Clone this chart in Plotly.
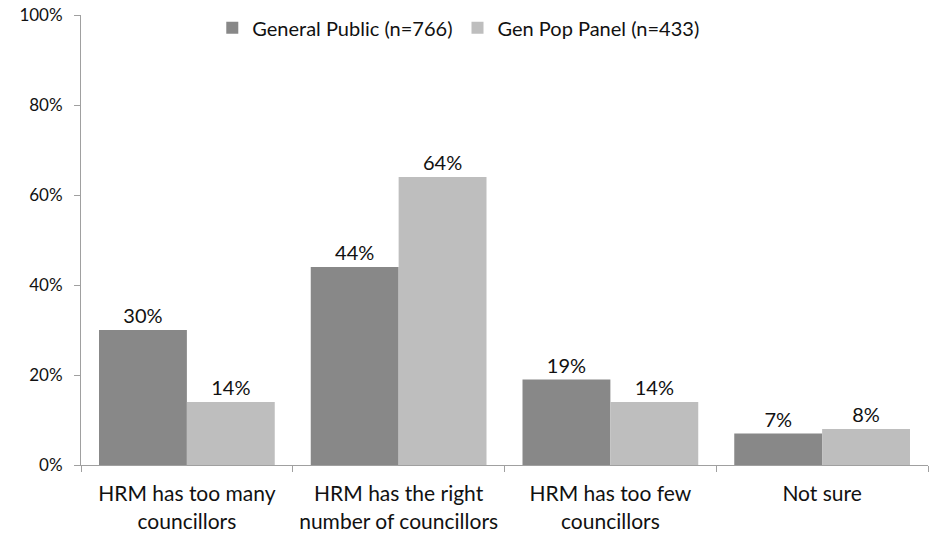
import plotly.graph_objects as go

categories = ["HRM has too many<br>councillors", "HRM has the right<br>number of councillors",
              "HRM has too few<br>councillors", "Not sure"]
general_public = [30, 44, 19, 7]
gen_pop_panel = [14, 64, 14, 8]
series_names = ["General Public (n=766)", "Gen Pop Panel (n=433)"]
y_ticks = [0, 20, 40, 60, 80, 100]
y_tick_labels = [f"{v}%" for v in y_ticks]

font_family = "Lato, Open Sans, sans-serif"

fig = go.Figure()
fig.add_trace(go.Bar(x=categories, y=general_public, name=series_names[0],
                     marker=dict(color="#888888", line=dict(width=0)),
                     text=[f"{v}%" for v in general_public], textposition="outside",
                     cliponaxis=False,
                     textfont=dict(size=20, color="#111111")))
fig.add_trace(go.Bar(x=categories, y=gen_pop_panel, name=series_names[1],
                     marker=dict(color="#BEBEBE", line=dict(width=0)),
                     text=[f"{v}%" for v in gen_pop_panel], textposition="outside",
                     cliponaxis=False,
                     textfont=dict(size=20, color="#111111")))

fig.update_layout(
    width=934, height=536,
    margin=dict(l=81, r=6, t=15, b=71),
    paper_bgcolor="white", plot_bgcolor="white",
    font=dict(family=font_family, size=18, color="#111111"),
    barmode="group", bargap=0.17, bargroupgap=0,
    legend=dict(orientation="h", x=0.155, xanchor="left", y=1.015, yanchor="top",
                font=dict(size=20), itemsizing="constant", traceorder="normal",
                bgcolor="rgba(0,0,0,0)"),
    xaxis=dict(showline=True, linecolor="#A0A0A0", linewidth=1, automargin=False,
               ticks="outside", tickson="boundaries", ticklen=6, tickcolor="#A0A0A0",
               ticklabelstandoff=10, tickfont=dict(size=21)),
    yaxis=dict(range=[0, 100], tickvals=y_ticks, ticktext=y_tick_labels,
               showline=True, linecolor="#A0A0A0", linewidth=1, automargin=False,
               ticks="outside", ticklen=6, tickcolor="#A0A0A0", ticklabelstandoff=8,
               showgrid=False, zeroline=False, tickfont=dict(size=17)),
)

fig.write_html("out.html", config={"displayModeBar": False},
               post_script="document.body.style.margin='0px';document.body.style.overflow='hidden';")
